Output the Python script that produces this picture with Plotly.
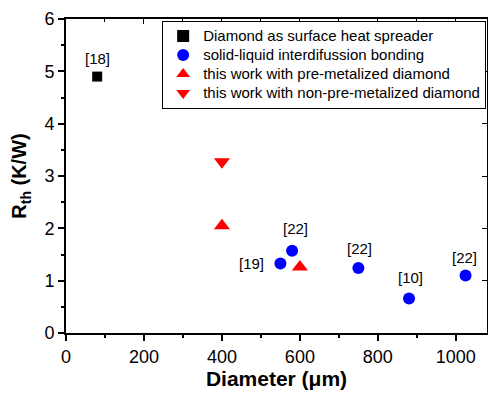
import plotly.graph_objects as go

# Thermal resistance vs. bond diameter
spreader_d = [80]
spreader_r = [4.9]

slid_d = [550, 580, 750, 880, 1025]
slid_r = [1.33, 1.57, 1.24, 0.66, 1.10]

premet_d = [400, 600]
premet_r = [2.05, 1.26]

nonpremet_d = [400]
nonpremet_r = [3.27]

series_names = [
    "Diamond as surface heat spreader",
    "solid-liquid interdifussion bonding",
    "this work with pre-metalized diamond",
    "this work with non-pre-metalized diamond",
]

# reference labels: (x, y, text, xshift, yshift)
ref_labels = [
    (80, 4.9, "[18]", 0, 18),
    (580, 1.57, "[22]", 3, 22),
    (550, 1.33, "[19]", -29, 0),
    (750, 1.24, "[22]", 1, 20),
    (880, 0.66, "[10]", 1, 21),
    (1025, 1.10, "[22]", -1, 18),
]

font = "Arial, Liberation Sans, sans-serif"


def legend_label(s):
    # larger glyphs while keeping the compact legend row spacing
    return "<span style='font-size:15px'>" + s + "</span>"


fig = go.Figure()
fig.add_trace(go.Scatter(x=spreader_d, y=spreader_r, mode="markers",
                         name=legend_label(series_names[0]),
                         marker=dict(symbol="square", size=10, color="black")))
fig.add_trace(go.Scatter(x=slid_d, y=slid_r, mode="markers",
                         name=legend_label(series_names[1]),
                         marker=dict(symbol="circle", size=12, color="#0000ff")))
fig.add_trace(go.Scatter(x=premet_d, y=premet_r, mode="markers",
                         name=legend_label(series_names[2]),
                         marker=dict(symbol="triangle-up", size=14, color="#ff0000")))
fig.add_trace(go.Scatter(x=nonpremet_d, y=nonpremet_r, mode="markers",
                         name=legend_label(series_names[3]),
                         marker=dict(symbol="triangle-down", size=14, color="#ff0000")))

for x, y, t, xs, ys in ref_labels:
    fig.add_annotation(x=x, y=y, text=t, showarrow=False, xshift=xs, yshift=ys,
                       font=dict(family=font, size=15, color="black"))

xr = [0, 1080]
yr = [0, 6]
fig.update_layout(
    width=488, height=395,
    margin=dict(l=66, r=1, t=19, b=62),
    paper_bgcolor="white", plot_bgcolor="white",
    font=dict(family=font, color="black"),
    showlegend=True,
    legend=dict(x=0.998, y=0.995, xanchor="right", yanchor="top",
                bgcolor="white", bordercolor="black", borderwidth=1,
                font=dict(family=font, size=12), itemsizing="constant",
                tracegroupgap=0, itemwidth=30),
    xaxis=dict(range=xr, tickvals=[0, 200, 400, 600, 800, 1000],
               ticks="outside", ticklen=6, tickwidth=2, tickcolor="black",
               minor=dict(tickvals=[100, 300, 500, 700, 900], ticks="outside",
                          ticklen=3, tickwidth=2, tickcolor="black"),
               showline=True, linewidth=2, linecolor="black", showgrid=False,
               zeroline=False, tickfont=dict(size=18),
               title=dict(text="<b>Diameter</b> <b>(μm)</b>", font=dict(size=21), standoff=6)),
    yaxis=dict(range=yr, tickvals=[0, 1, 2, 3, 4, 5, 6],
               ticks="outside", ticklen=6, tickwidth=2, tickcolor="black",
               minor=dict(tickvals=[0.5, 1.5, 2.5, 3.5, 4.5, 5.5], ticks="outside",
                          ticklen=3, tickwidth=2, tickcolor="black"),
               showline=True, linewidth=2, linecolor="black", showgrid=False,
               zeroline=False, tickfont=dict(size=18),
               title=dict(text="<b>R<sub>th</sub> (K/W)</b>", font=dict(size=20), standoff=12)),
    xaxis2=dict(range=xr, overlaying="x", side="top", tickvals=[0, 200, 400, 600, 800, 1000],
                ticks="inside", ticklen=5, tickwidth=1, tickcolor="black",
                minor=dict(tickvals=[100, 300, 500, 700, 900], ticks="inside",
                           ticklen=3, tickwidth=1, tickcolor="black"),
                showticklabels=False, showline=True, linewidth=2, linecolor="black",
                showgrid=False, zeroline=False),
    yaxis2=dict(range=yr, overlaying="y", side="right", tickvals=[0, 1, 2, 3, 4, 5, 6],
                ticks="inside", ticklen=5, tickwidth=1, tickcolor="black",
                showticklabels=False, showline=True, linewidth=2, linecolor="black",
                showgrid=False, zeroline=False),
)
# invisible trace to bring the top/right frame axes into view
fig.add_trace(go.Scatter(x=[None], y=[None], xaxis="x2", yaxis="y2",
                         showlegend=False, hoverinfo="skip"))

fig.write_html("out.html")
